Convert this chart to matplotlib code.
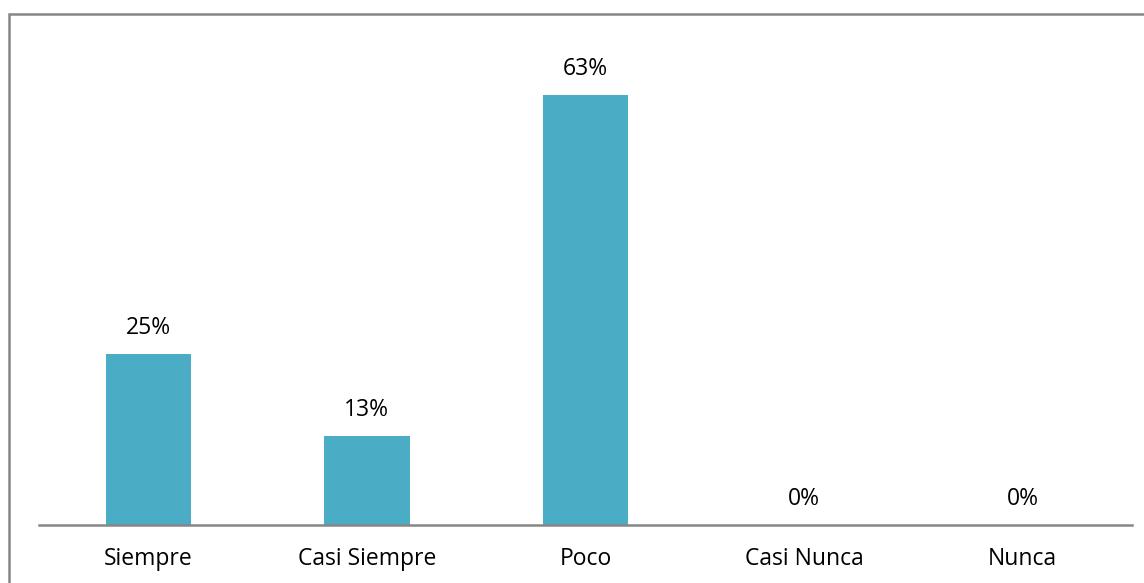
import matplotlib.pyplot as plt
from matplotlib.patches import Rectangle

categorias = ['Siempre', 'Casi Siempre', 'Poco', 'Casi Nunca', 'Nunca']
porcentajes = [25, 13, 63, 0, 0]
etiquetas = ['25%', '13%', '63%', '0%', '0%']

plt.rcParams['font.family'] = ['Open Sans', 'DejaVu Sans']

fig = plt.figure(figsize=(11.44, 5.83), dpi=100)
W, H = 1144, 583
# axes placed in pixel terms: baseline at y=525, line from x=39 to x=1132
ax = fig.add_axes([39 / W, (H - 525) / H, (1132 - 39) / W, (525 - 47) / H])

x = range(len(categorias))
ax.bar(x, porcentajes, width=0.39, color='#4BACC6')

for xi, v, t in zip(x, porcentajes, etiquetas):
    ax.annotate(t, (xi, v), xytext=(0, 10), textcoords='offset points',
                ha='center', va='bottom', fontsize=16.5, color='#000000')

ax.set_xlim(-0.5, 4.5)
ax.set_ylim(0, 70)
ax.set_xticks(list(x))
ax.set_xticklabels(categorias, fontsize=16.5)
ax.tick_params(axis='x', length=0, pad=16)
ax.set_yticks([])
for s in ['top', 'right', 'left']:
    ax.spines[s].set_visible(False)
ax.spines['bottom'].set_color('#868686')
ax.spines['bottom'].set_linewidth(1.8)

# outer chart border (only top and left sides fall inside the image)
fig.patches.append(Rectangle((9 / W, -0.1), 1.2, (H - 14) / H + 0.1,
                             transform=fig.transFigure, fill=False,
                             edgecolor='#868686', linewidth=1.8))

fig.savefig('out.png', dpi=100)
